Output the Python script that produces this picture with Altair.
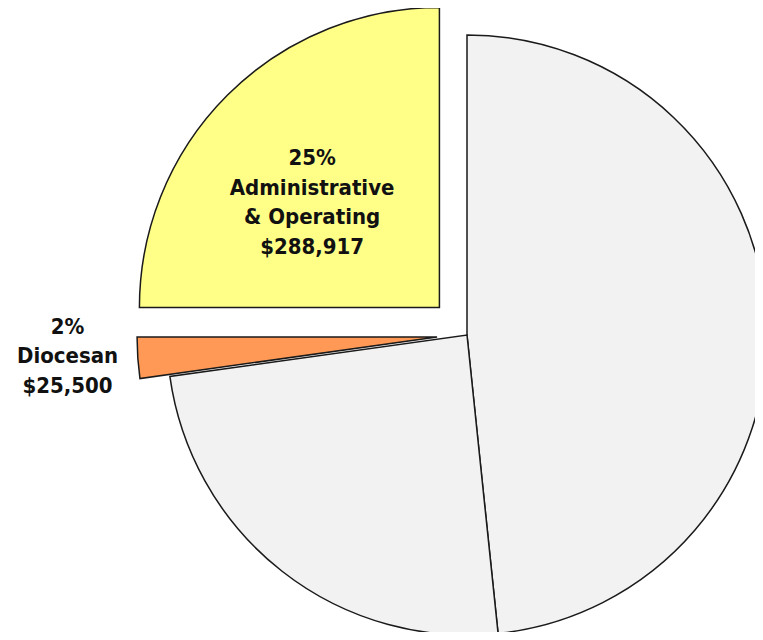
import altair as alt
import pandas as pd

# ---- data (clockwise from 12 o'clock) ----
categories = ["Program & Ministry", "Facilities", "Diocesan", "Administrative & Operating"]
values = [558750, 282500, 25500, 288917]
percent_text = ["", "", "2%", "25%"]
label_text = ["", "", "Diocesan", "Administrative\n& Operating"]
amount_text = ["", "", "$25,500", "$288,917"]

# ---- styles / layout ----
colors = {"Program & Ministry": "#f2f2f2", "Facilities": "#f2f2f2",
          "Diocesan": "#ff9955", "Administrative & Operating": "#ffff88"}
explode = {"Program & Ministry": 0, "Facilities": 0, "Diocesan": 30, "Administrative & Operating": 39}
label_r = {"Program & Ministry": 0, "Facilities": 0, "Diocesan": 370, "Administrative & Operating": 165}
label_turn = {"Program & Ministry": 0, "Facilities": 0, "Diocesan": 1, "Administrative & Operating": -5.5}
CX, CY, R = 459, 327, 300
LINE_H = 29.5

rows = []
for i, c in enumerate(categories):
    parts = [p for p in (percent_text[i], label_text[i], amount_text[i]) if p]
    label = "\n".join(parts)
    rows.append({
        "order": i, "category": c, "value": values[i],
        "label": label, "nlines": label.count("\n") + 1,
        "color": colors[c], "explode": explode[c],
        "label_r": label_r[c], "label_turn": label_turn[c],
    })
df = pd.DataFrame(rows)

base = alt.Chart(df).transform_window(
    cum="sum(value)", sort=[alt.SortField("order")], frame=[None, 0]
).transform_joinaggregate(
    total="sum(value)"
).transform_calculate(
    start="(datum.cum - datum.value) / datum.total * 2 * PI",
    end="datum.cum / datum.total * 2 * PI",
).transform_calculate(
    mid="(datum.start + datum.end) / 2",
).transform_calculate(
    cx=f"{CX} + datum.explode * sin(datum.mid)",
    cy=f"{CY} - datum.explode * cos(datum.mid)",
).transform_calculate(
    lx="datum.cx + datum.label_r * sin(datum.mid + datum.label_turn * PI / 180)",
    ly=f"datum.cy - datum.label_r * cos(datum.mid + datum.label_turn * PI / 180) - (datum.nlines - 1) * {LINE_H} / 2",
)

arcs = base.mark_arc(radius=R, stroke="#1a1a1a", strokeWidth=1.5).encode(
    x=alt.X("cx:Q", scale=None),
    y=alt.Y("cy:Q", scale=None),
    theta=alt.Theta("start:Q", scale=None),
    theta2="end:Q",
    color=alt.Color("color:N", scale=None),
    order=alt.Order("order:Q"),
)

labels = base.transform_filter("datum.label != ''").mark_text(
    font="DejaVu Sans Condensed", fontWeight="bold", fontSize=22, lineBreak="\n",
    lineHeight=LINE_H, align="center", baseline="middle", color="#111111",
).encode(
    x=alt.X("lx:Q", scale=None),
    y=alt.Y("ly:Q", scale=None),
    text="label:N",
)

chart = alt.layer(arcs, labels).properties(
    width=747, height=624, padding=0, autosize="none",
    background="white",
).configure_view(stroke=None)

chart.save("out.html", embed_options={"renderer": "svg", "actions": False})
